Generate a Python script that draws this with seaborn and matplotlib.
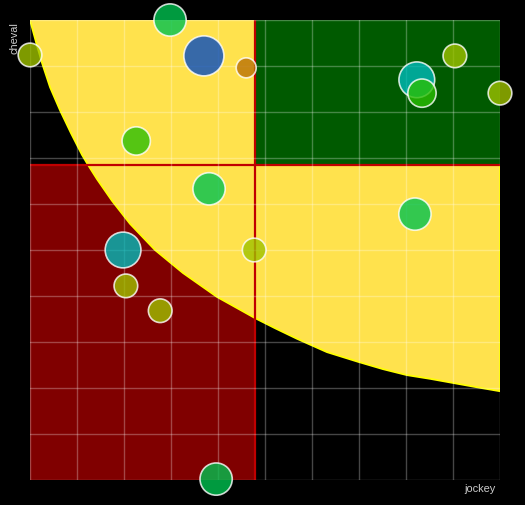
import matplotlib
matplotlib.use('Agg')
import matplotlib.pyplot as plt
import seaborn as sns
import pandas as pd
import numpy as np

#   Bubbles: jockey (x), cheval (y), size, colour group
jockey = [0.0, 2.98, 3.70, 4.60, 2.26, 8.23, 8.34, 9.04, 10.0, 3.81, 8.19, 1.98, 4.77, 2.04, 2.77, 3.96]
cheval = [9.24, 10.0, 9.22, 8.96, 7.37, 8.70, 8.41, 9.22, 8.41, 6.33, 5.78, 5.00, 5.00, 4.22, 3.68, 0.02]
taille = [1.4, 2.6, 4.0, 1.0, 2.0, 3.2, 2.0, 1.4, 1.4, 2.6, 2.6, 3.2, 1.4, 1.4, 1.4, 2.6]
groupe = ['olive', 'vert', 'bleu', 'orange', 'lime', 'turquoise', 'lime', 'olive', 'olive',
          'vert', 'vert', 'turquoise', 'olive', 'olive', 'olive', 'vert']

palette = {'olive': '#9fc200', 'vert': '#00c250', 'bleu': '#054bc0',
           'orange': '#ba7005', 'lime': '#2abe05', 'turquoise': '#00bbbb'}

#   Yellow zone boundary
courbe_x = [0.0, 0.128, 0.255, 0.426, 0.638, 0.872, 1.106, 1.234, 1.426, 1.745, 2.128, 2.660,
            3.255, 3.979, 4.787, 5.213, 5.681, 6.319, 6.979, 7.511, 8.021, 8.511, 9.0, 9.489, 10.0]
courbe_y = [10.0, 9.52, 9.07, 8.54, 8.04, 7.54, 7.07, 6.85, 6.54, 6.07, 5.57, 5.00,
            4.50, 3.98, 3.52, 3.30, 3.07, 2.78, 2.57, 2.41, 2.28, 2.20, 2.11, 2.02, 1.93]

#   Thresholds
seuil_jockey = 4.79
seuil_cheval = 6.85

df = pd.DataFrame({'jockey': jockey, 'cheval': cheval, 'taille': taille, 'groupe': groupe})

sns.set_style('dark')
fig = plt.figure(figsize=(5.25, 5.05), dpi=100, facecolor='black')
ax = fig.add_axes([30 / 525, 25 / 505, 470 / 525, 460 / 505])
ax.set_facecolor('black')

#   Bands and zone
ax.axvspan(0, seuil_jockey, ymin=0, ymax=seuil_cheval / 10, color='#800000', lw=0, zorder=0.5)
ax.fill(courbe_x + [10.0], courbe_y + [10.0], color='#ffe24d', lw=0, zorder=0.6)
ax.plot(courbe_x + [10.0], courbe_y + [10.0], color='#ffff00', lw=1.3,
        solid_joinstyle='round', zorder=0.65)
ax.axvspan(seuil_jockey, 10, ymin=seuil_cheval / 10, ymax=1, color='#005a00', lw=0, zorder=0.7)
ax.axvline(seuil_jockey, color='#c00000', lw=1.6, zorder=0.8)
ax.axhline(seuil_cheval, color='#c00000', lw=1.6, zorder=0.8)

ax.set_xlim(0, 10)
ax.set_ylim(0, 10)
ax.set_xticks(np.arange(0, 11, 1))
ax.set_yticks(np.arange(0, 11, 1))
ax.set_xticklabels([])
ax.set_yticklabels([])
ax.tick_params(length=0)
ax.grid(True, color='white', alpha=0.28, lw=1)
ax.set_axisbelow(False)
for sp in ax.spines.values():
    sp.set_visible(False)

sns.scatterplot(data=df, x='jockey', y='cheval', hue='groupe', palette=palette,
                size='taille', sizes=(207, 829), size_norm=(1.0, 4.0),
                alpha=0.8, edgecolor='white', linewidth=1.2, legend=False,
                clip_on=False, zorder=3, ax=ax)
ax.set_xlabel('')
ax.set_ylabel('')

fig.text(15 / 525, 1 - 22 / 505, 'cheval', rotation=90, ha='center', va='top',
         color='#cccccc', fontsize=7.9, family='Liberation Sans')
fig.text(496 / 525, 1 - 489 / 505, 'jockey', ha='right', va='center',
         color='#cccccc', fontsize=7.9, family='Liberation Sans')

plt.savefig('out.png', dpi=100, facecolor='black')
